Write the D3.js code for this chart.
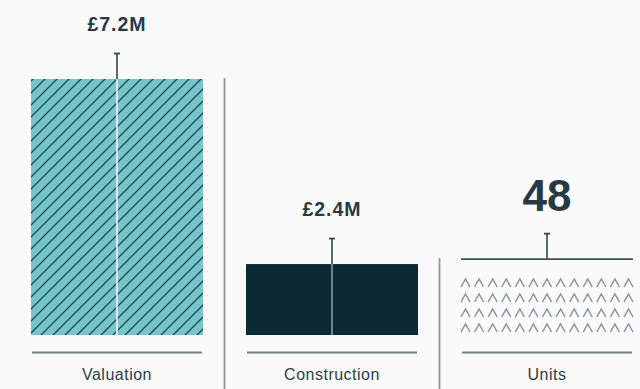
<!DOCTYPE html>
<html>
<head>
<meta charset="utf-8">
<script src="https://cdn.jsdelivr.net/npm/d3@7"></script>
<style>
  html, body { margin: 0; padding: 0; background: #fafafa; }
  svg { display: block; }
  text { font-family: "Liberation Sans", Arial, Helvetica, sans-serif; }
</style>
</head>
<body>
<svg id="chart" width="640" height="389"></svg>
<script>
// Project headline figures
const categories = ["Valuation", "Construction", "Units"];
const values = [7.2, 2.4, 48];
const valueLabels = ["£7.2M", "£2.4M", "48"];
const kinds = ["money", "money", "count"];

const W = 640, H = 389;
const svg = d3.select("#chart");

const baseY = 335;      // bottom of bars
const topY = 79;        // top of the drawing range

const x = d3.scaleBand().domain(categories).range([31, 633])
  .paddingInner(0.2).paddingOuter(0);

// Money in £M and unit counts each get their own vertical scale
const yMoney = d3.scaleLinear().domain([0.56, 7.2]).range([baseY, topY]);
const yCount = d3.scaleLinear().domain([0, 162]).range([baseY, topY]);
const yOf = i => (kinds[i] === "money" ? yMoney : yCount)(values[i]);

const ink = "#243a44";
const whiskerLen = 26;

// Diagonal hatch for the valuation bar
const defs = svg.append("defs");
const hatch = defs.append("pattern")
  .attr("id", "hatch").attr("patternUnits", "userSpaceOnUse")
  .attr("width", 12).attr("height", 12)
  .attr("x", x(categories[0]) + 2).attr("y", topY);
hatch.append("rect").attr("width", 12).attr("height", 12).attr("fill", "#76c5ca");
hatch.append("path")
  .attr("d", "M-3,3 l6,-6 M0,12 l12,-12 M9,15 l6,-6")
  .attr("stroke", "#1e4651").attr("stroke-width", 1.3);

const bw = x.bandwidth();

categories.forEach((c, i) => {
  const x0 = x(c), cx = x0 + bw / 2, yv = yOf(i);
  const g = svg.append("g");

  if (i === 0) {
    g.append("rect").attr("x", x0).attr("y", yv).attr("width", bw)
      .attr("height", baseY - yv).attr("fill", "url(#hatch)");
    g.append("line").attr("x1", cx).attr("x2", cx).attr("y1", yv).attr("y2", baseY)
      .attr("stroke", "#f4f4f4").attr("stroke-width", 1.6);
  } else if (i === 1) {
    g.append("rect").attr("x", x0).attr("y", yv).attr("width", bw)
      .attr("height", baseY - yv).attr("fill", "#0b2a34");
    g.append("line").attr("x1", cx).attr("x2", cx).attr("y1", yv).attr("y2", baseY)
      .attr("stroke", "#8b9ca1").attr("stroke-width", 1.6);
  } else {
    // top edge plus a grid of carets standing in for the units
    g.append("line").attr("x1", x0).attr("x2", x0 + bw).attr("y1", yv).attr("y2", yv)
      .attr("stroke", "#3a525c").attr("stroke-width", 1.6);
    const cols = 13, rows = 4, cw = 9, ch = 8;
    const sx = (bw - cw) / (cols - 1);
    d3.range(rows).forEach(r => {
      const cy = 283 + r * 15;
      d3.range(cols).forEach(k => {
        const px = x0 + cw / 2 + k * sx;
        g.append("path")
          .attr("d", `M${px - cw / 2},${cy + ch / 2} L${px},${cy - ch / 2} L${px + cw / 2},${cy + ch / 2}`)
          .attr("fill", "none").attr("stroke", "#87949a").attr("stroke-width", 1.5);
      });
    });
  }

  // whisker with cap
  g.append("line").attr("x1", cx).attr("x2", cx).attr("y1", yv - whiskerLen).attr("y2", yv)
    .attr("stroke", "#2f4953").attr("stroke-width", 1.6);
  g.append("line").attr("x1", cx - 3).attr("x2", cx + 3)
    .attr("y1", yv - whiskerLen + 0.5).attr("y2", yv - whiskerLen + 0.5)
    .attr("stroke", "#2f4953").attr("stroke-width", 1.8);

  // baseline
  g.append("line").attr("x1", x0 + 1).attr("x2", x0 + bw - 1)
    .attr("y1", 352.5).attr("y2", 352.5)
    .attr("stroke", "#6e8087").attr("stroke-width", 2);

  // value label
  g.append("text").attr("x", cx).attr("y", yv - 48)
    .attr("text-anchor", "middle").attr("fill", ink).attr("font-weight", "bold")
    .attr("font-size", kinds[i] === "count" ? 44 : 19.5)
    .attr("letter-spacing", kinds[i] === "count" ? 0 : 1)
    .text(valueLabels[i]);

  // category label
  g.append("text").attr("x", cx).attr("y", 380)
    .attr("text-anchor", "middle").attr("fill", "#2b3e47")
    .attr("font-size", 16).attr("letter-spacing", 0.5)
    .text(c);
});

// dividers between panels, starting at the taller neighbour
d3.range(categories.length - 1).forEach(i => {
  const xd = x(categories[i]) + bw + (x.step() - bw) / 2;
  const yTop = Math.min(yOf(i), yOf(i + 1)) - 1;
  svg.append("line").attr("x1", xd).attr("x2", xd).attr("y1", yTop).attr("y2", H)
    .attr("stroke", "#8d9a9f").attr("stroke-width", 1.8);
});
</script>
</body>
</html>
